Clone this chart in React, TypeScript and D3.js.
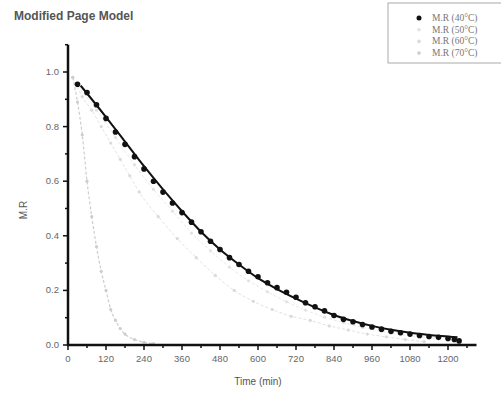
import React, { useEffect, useRef } from "react";
import * as d3 from "d3";

// time (min) readings for each series
const t40 = [30, 60, 90, 120, 150, 180, 210, 240, 270, 300, 330, 360, 390, 420, 450, 480, 510, 540, 570, 600, 630, 660, 690, 720, 750, 780, 810, 840, 870, 900, 930, 960, 990, 1020, 1050, 1080, 1110, 1140, 1170, 1200, 1220, 1235];
const mr40 = [0.955, 0.925, 0.88, 0.83, 0.78, 0.735, 0.69, 0.645, 0.6, 0.56, 0.52, 0.485, 0.45, 0.415, 0.38, 0.35, 0.32, 0.295, 0.27, 0.25, 0.228, 0.21, 0.193, 0.175, 0.155, 0.14, 0.125, 0.108, 0.094, 0.085, 0.075, 0.066, 0.058, 0.05, 0.045, 0.04, 0.035, 0.031, 0.028, 0.024, 0.02, 0.015];

const tFit = [40, 120, 180, 240, 300, 360, 420, 480, 540, 600, 660, 720, 780, 840, 900, 960, 1020, 1080, 1140, 1200, 1230];
const mrFit = [0.95, 0.835, 0.745, 0.655, 0.57, 0.49, 0.415, 0.35, 0.295, 0.245, 0.205, 0.17, 0.138, 0.11, 0.088, 0.07, 0.056, 0.045, 0.037, 0.031, 0.028];

const t50 = [30, 90, 150, 210, 270, 330, 390, 450, 510, 570, 630, 690, 750, 810, 870, 930, 990, 1050, 1110, 1170];
const mr50 = [0.95, 0.86, 0.76, 0.66, 0.57, 0.49, 0.41, 0.345, 0.285, 0.235, 0.195, 0.158, 0.128, 0.102, 0.082, 0.064, 0.05, 0.038, 0.03, 0.024];

const t60 = [15, 45, 75, 105, 135, 165, 195, 225, 285, 345, 405, 465, 525, 585, 645, 705, 765, 825, 885, 945, 1005, 1065, 1125];
const mr60 = [0.98, 0.91, 0.86, 0.8, 0.74, 0.68, 0.62, 0.56, 0.47, 0.39, 0.32, 0.255, 0.2, 0.16, 0.13, 0.105, 0.09, 0.07, 0.055, 0.04, 0.03, 0.02, 0.012];

const t70 = [15, 30, 45, 60, 75, 90, 105, 120, 135, 150, 165, 180, 210, 240, 270];
const mr70 = [0.98, 0.89, 0.77, 0.6, 0.47, 0.36, 0.27, 0.2, 0.13, 0.09, 0.06, 0.04, 0.02, 0.01, 0.005];

const xTicks = [0, 120, 240, 360, 480, 600, 720, 840, 960, 1080, 1200];
const yTicks = [0, 0.2, 0.4, 0.6, 0.8, 1.0];
const legendLabels = ["M.R (40°C)", "M.R (50°C)", "M.R (60°C)", "M.R (70°C)"];

const App = () => {
  const svgRef = useRef<SVGSVGElement>(null);

  useEffect(() => {
    const svg = d3.select(svgRef.current);
    svg.selectAll("*").remove();

    const x = d3.scaleLinear().domain([0, 1200]).range([68, 448]);
    const y = d3.scaleLinear().domain([0, 1]).range([345, 72]);
    const font = "Liberation Sans, Arial, sans-serif";

    svg.append("rect").attr("width", 501).attr("height", 396).attr("fill", "#fff");

    // title
    svg.append("text").attr("x", 14).attr("y", 20).attr("font-family", font)
      .attr("font-size", 12).attr("font-weight", "bold").attr("fill", "#555")
      .text("Modified Page Model");

    const toPts = (ts: number[], vs: number[]) => ts.map((t, i) => [t, vs[i]] as [number, number]);
    const line = d3.line<[number, number]>().x((d) => x(d[0])).y((d) => y(d[1])).curve(d3.curveMonotoneX);

    // faint series (50, 60, 70 C)
    const light = [
      { pts: toPts(t50, mr50), color: "#e2e2e2", w: 0.8 },
      { pts: toPts(t60, mr60), color: "#dadada", w: 0.8 },
      { pts: toPts(t70, mr70), color: "#cdcdcd", w: 1.2 },
    ];
    light.forEach((s) => {
      svg.append("path").attr("d", line(s.pts)).attr("fill", "none")
        .attr("stroke", s.color).attr("stroke-width", s.w).attr("stroke-dasharray", "3,2");
      svg.append("g").selectAll("circle").data(s.pts).join("circle")
        .attr("cx", (d) => x(d[0])).attr("cy", (d) => y(d[1])).attr("r", 1.6)
        .attr("fill", s.color);
    });

    // 40C fit + points
    svg.append("path").attr("d", line(toPts(tFit, mrFit))).attr("fill", "none")
      .attr("stroke", "#111").attr("stroke-width", 2);
    svg.append("g").selectAll("circle").data(toPts(t40, mr40)).join("circle")
      .attr("cx", (d) => x(d[0])).attr("cy", (d) => y(d[1])).attr("r", 2.8)
      .attr("fill", "#111");

    // axes
    const axisG = svg.append("g").attr("font-family", font).attr("font-size", 9.5).attr("fill", "#666");
    axisG.append("line").attr("x1", 68).attr("x2", 68).attr("y1", y(1.1)).attr("y2", 346)
      .attr("stroke", "#111").attr("stroke-width", 2.5);
    axisG.append("line").attr("x1", 67).attr("x2", x(1290)).attr("y1", 345).attr("y2", 345)
      .attr("stroke", "#111").attr("stroke-width", 2.5);

    d3.range(0, 1.1001, 0.1).forEach((v, i) => {
      const major = i % 2 === 0;
      axisG.append("line").attr("x1", 68).attr("x2", major ? 63 : 65)
        .attr("y1", y(v)).attr("y2", y(v)).attr("stroke", "#111").attr("stroke-width", 1.5);
    });
    yTicks.forEach((v) => {
      axisG.append("text").attr("x", 59).attr("y", y(v) + 3).attr("text-anchor", "end")
        .text(v.toFixed(1));
    });
    d3.range(0, 1290, 60).forEach((v, i) => {
      const major = i % 2 === 0;
      axisG.append("line").attr("x1", x(v)).attr("x2", x(v)).attr("y1", 345)
        .attr("y2", major ? 350 : 348).attr("stroke", "#111").attr("stroke-width", 1.5);
    });
    xTicks.forEach((v) => {
      axisG.append("text").attr("x", x(v)).attr("y", 362).attr("text-anchor", "middle").text(v);
    });

    svg.append("text").attr("x", 258).attr("y", 385).attr("text-anchor", "middle")
      .attr("font-family", font).attr("font-size", 10).attr("fill", "#555").text("Time (min)");
    svg.append("text").attr("transform", "translate(27,210) rotate(-90)").attr("text-anchor", "middle")
      .attr("font-family", font).attr("font-size", 10).attr("fill", "#555").text("M.R");

    // legend
    const lg = svg.append("g").attr("font-family", "Liberation Serif, Times New Roman, serif")
      .attr("font-size", 9.5).attr("fill", "#777");
    lg.append("rect").attr("x", 388).attr("y", 3).attr("width", 120).attr("height", 60)
      .attr("fill", "#fff").attr("stroke", "#aaa").attr("stroke-width", 1);
    const markColors = ["#111", "#e2e2e2", "#dadada", "#cdcdcd"];
    legendLabels.forEach((label, i) => {
      const ly = 18 + i * 11.7;
      lg.append("circle").attr("cx", 419).attr("cy", ly).attr("r", i === 0 ? 2.5 : 1.8)
        .attr("fill", markColors[i]);
      lg.append("text").attr("x", 432).attr("y", ly + 3).text(label);
    });
  }, []);

  return (
    <svg ref={svgRef} width={501} height={396}
      style={{ position: "absolute", left: 0, top: 0 }} />
  );
};

export default App;
